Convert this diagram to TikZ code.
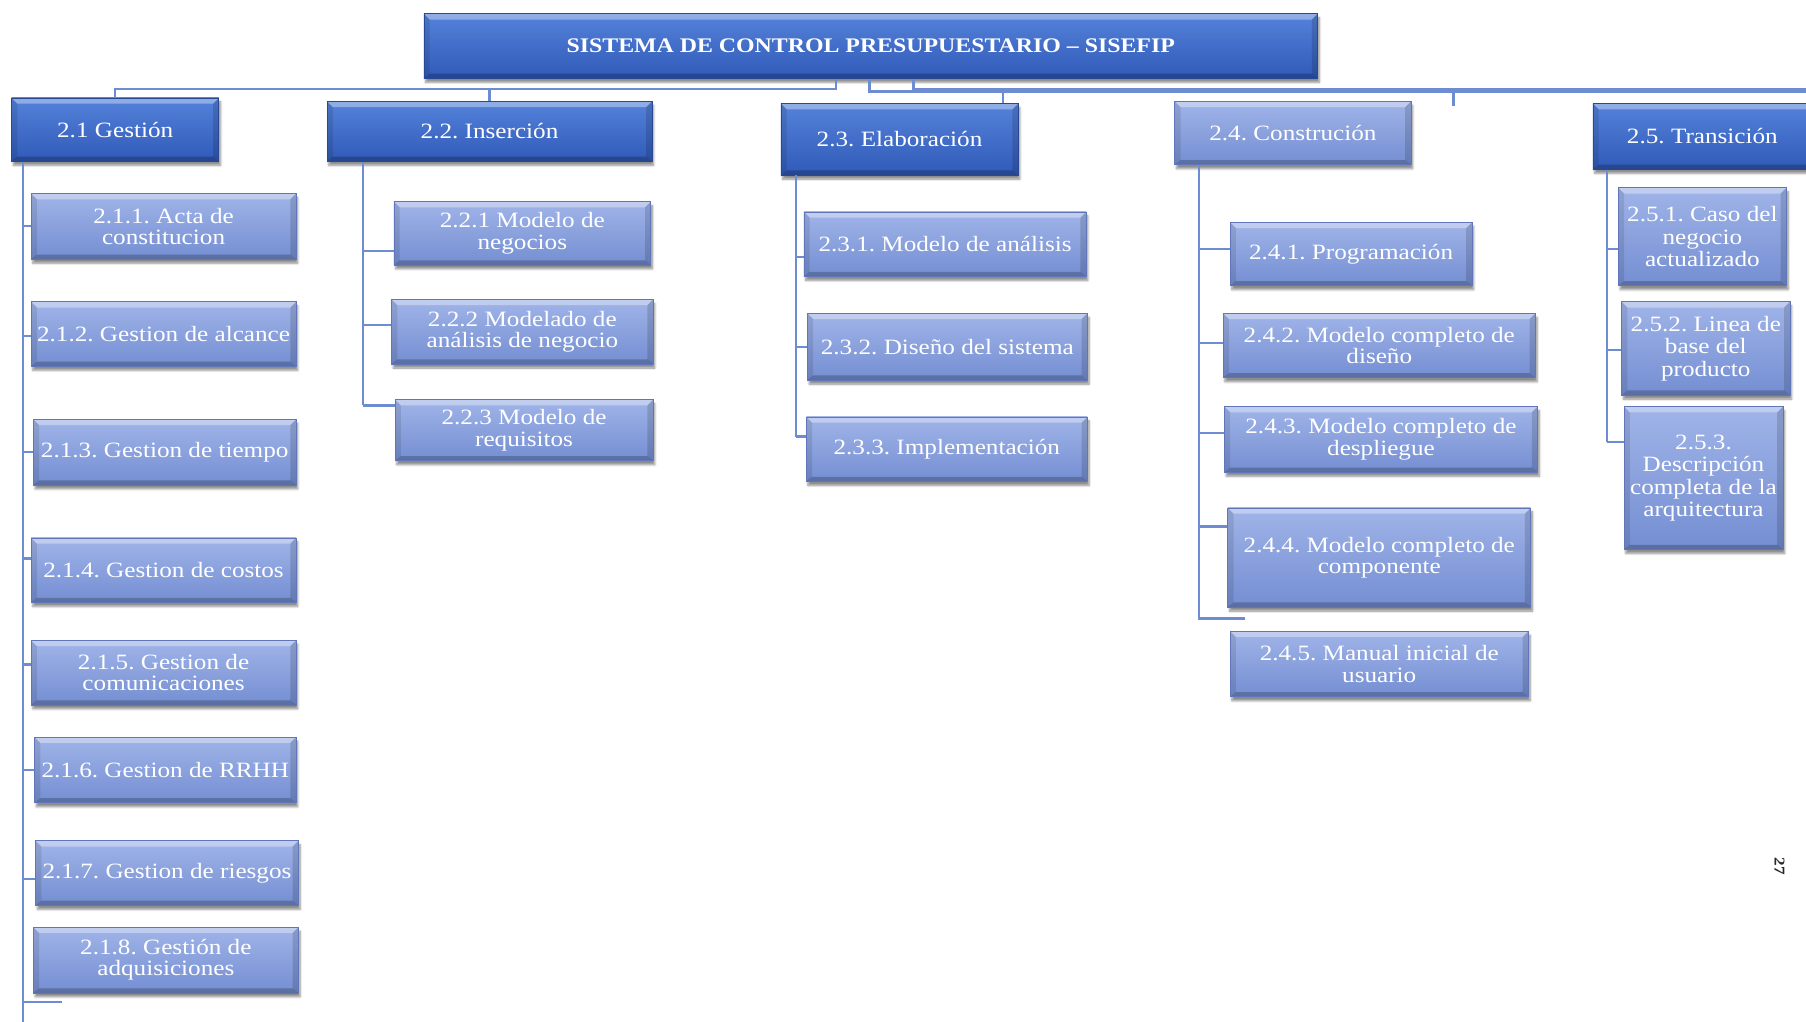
\documentclass[tikz,border=0pt]{standalone}
\usepackage{fontspec}
\setmainfont{Liberation Serif}[FakeStretch=1.15]
\usetikzlibrary{shadows.blur}
\definecolor{lbtop}{RGB}{160,180,232}
\definecolor{lbbot}{RGB}{116,142,210}
\definecolor{lbedge}{RGB}{96,118,186}
\definecolor{dbtop}{RGB}{84,130,218}
\definecolor{dbbot}{RGB}{48,90,184}
\definecolor{dbedge}{RGB}{40,72,150}
\definecolor{conncol}{RGB}{110,140,210}
\frenchspacing
\tikzset{
  bevel/.style={path picture={
    \fill[white,opacity=0.35] (path picture bounding box.north west) -- (path picture bounding box.north east) -- ([shift={(-5pt,-5pt)}]path picture bounding box.north east) -- ([shift={(5pt,-5pt)}]path picture bounding box.north west) -- cycle;
    \fill[black,opacity=0.22] (path picture bounding box.south west) -- (path picture bounding box.south east) -- ([shift={(-5pt,4pt)}]path picture bounding box.south east) -- ([shift={(5pt,4pt)}]path picture bounding box.south west) -- cycle;
    \fill[black,opacity=0.10] (path picture bounding box.north west) -- ([shift={(5pt,-5pt)}]path picture bounding box.north west) -- ([shift={(5pt,4pt)}]path picture bounding box.south west) -- (path picture bounding box.south west) -- cycle;
    \fill[black,opacity=0.14] (path picture bounding box.north east) -- ([shift={(-5pt,-5pt)}]path picture bounding box.north east) -- ([shift={(-5pt,4pt)}]path picture bounding box.south east) -- (path picture bounding box.south east) -- cycle;
  }},
  boxbase/.style={rectangle, inner sep=1pt, align=center, text=white, line width=0.6pt, bevel,
     font=\fontsize{19}{18.5}\selectfont,
     blur shadow={shadow xshift=1.5pt, shadow yshift=-3.5pt, shadow blur steps=6, shadow opacity=45}},
  lbox/.style={boxbase, top color=lbtop, bottom color=lbbot, draw=lbedge},
  dbox/.style={boxbase, top color=dbtop, bottom color=dbbot, draw=dbedge},
  tallbox/.style={lbox, font=\fontsize{19}{19.5}\selectfont},
  rootbox/.style={dbox, font=\bfseries\fontsize{18}{20}\selectfont},
  conn/.style={draw=conncol, line width=2pt},
}
\newcommand{\wbs}[7]{%
  \pgfmathsetmacro{\wbsw}{#5-#3}\pgfmathsetmacro{\wbsh}{#6-#4}%
  \node[#2, minimum width=\wbsw pt, minimum height=\wbsh pt] (#1) at ({(#3+#5)/2},{(#4+#6)/2}) {#7};}
\newcommand{\stub}[3]{%
  \path ([yshift=#3pt]#2.west) coordinate (s#2);
  \draw[conn] (s#2 -| #1) -- (s#2);}
\begin{document}
\begin{tikzpicture}[x=1pt,y=-1pt]
\useasboundingbox (0,0) rectangle (1568,887);
\coordinate (busA) at (726,77);
\coordinate (busB) at (755,79.5);
\coordinate (busC) at (793,77);
\coordinate (edgeB) at (1570,79.5);
\coordinate (edgeC) at (1570,77);
\coordinate (dropE) at (871,79.5);
\coordinate (stubT) at (1262,79.5);
\coordinate (stubE) at (1262,92);
\coordinate (v21) at (20,887);
\coordinate (v22) at (315,352);
\coordinate (v23) at (691,379);
\coordinate (v24) at (1041,537);
\coordinate (v25) at (1395,384);
\coordinate (b21) at (54,870);
\coordinate (b24) at (1081,537);

\wbs{root}{rootbox}{368}{12}{1144}{68}{SISTEMA DE CONTROL PRESUPUESTARIO – SISEFIP}
\wbs{g21}{dbox}{10}{85}{190}{140}{2.1 Gestión}
\wbs{g22}{dbox}{284}{88}{566}{140}{2.2. Inserción}
\wbs{g23}{dbox}{678}{90}{884}{152}{2.3. Elaboración}
\wbs{g24}{lbox}{1020}{88}{1225}{143}{2.4. Construción}
\wbs{g25}{dbox}{1383}{90}{1573}{147}{2.5. Transición}

\wbs{g211}{lbox}{27}{168}{257}{225}{2.1.1. Acta de\\constitucion}
\wbs{g212}{lbox}{27}{262}{257}{318}{2.1.2. Gestion de alcance}
\wbs{g213}{lbox}{29}{364}{257}{421}{2.1.3. Gestion de tiempo}
\wbs{g214}{lbox}{27}{467}{257}{523}{2.1.4. Gestion de costos}
\wbs{g215}{lbox}{27}{556}{257}{612}{2.1.5. Gestion de\\comunicaciones}
\wbs{g216}{lbox}{30}{640}{257}{697}{2.1.6. Gestion de RRHH}
\wbs{g217}{lbox}{31}{730}{259}{786}{2.1.7. Gestion de riesgos}
\wbs{g218}{lbox}{29}{805}{259}{862}{2.1.8. Gestión de\\adquisiciones}

\wbs{g221}{lbox}{342}{175}{565}{230}{2.2.1 Modelo de\\negocios}
\wbs{g222}{lbox}{340}{260}{567}{316}{2.2.2 Modelado de\\análisis de negocio}
\wbs{g223}{lbox}{343}{347}{567}{400}{2.2.3 Modelo de\\requisitos}

\wbs{g231}{lbox}{698}{184}{943}{240}{2.3.1. Modelo de análisis}
\wbs{g232}{lbox}{701}{272}{944}{330}{2.3.2. Diseño del sistema}
\wbs{g233}{lbox}{700}{362}{944}{418}{2.3.3. Implementación}

\wbs{g241}{lbox}{1068}{193}{1278}{248}{2.4.1. Programación}
\wbs{g242}{lbox}{1062}{272}{1333}{328}{2.4.2. Modelo completo de\\diseño}
\wbs{g243}{lbox}{1063}{353}{1335}{410}{2.4.3. Modelo completo de\\despliegue}
\wbs{g244}{lbox}{1066}{441}{1329}{527}{2.4.4. Modelo completo de\\componente}
\wbs{g245}{lbox}{1068}{548}{1327}{605}{2.4.5. Manual inicial de\\usuario}

\wbs{g251}{tallbox}{1405}{163}{1551}{248}{2.5.1. Caso del\\negocio\\actualizado}
\wbs{g252}{tallbox}{1408}{262}{1554}{343}{2.5.2. Linea de\\base del\\producto}
\wbs{g253}{tallbox}{1410}{353}{1548}{477}{2.5.3.\\Descripción\\completa de la\\arquitectura}

\draw[conn] (root.south -| busA) -- (busA) -| (g21.north);
\draw[conn] (busA -| g22.north) -- (g22.north);
\draw[conn] (root.south -| busB) -- (busB) -- (edgeB);
\draw[conn] (root.south -| busC) -- (busC) -- (edgeC);
\draw[conn] (dropE) -- (dropE |- g23.north);
\draw[conn] (stubT) -- (stubE);

\draw[conn] (g21.south -| v21) -- (v21);
\draw[conn] (g22.south -| v22) -- (v22);
\draw[conn] (g23.south -| v23) -- (v23);
\draw[conn] (g24.south -| v24) -- (v24) -- (b24);
\draw[conn] (g25.south -| v25) -- (v25);
\draw[conn] (b21 -| v21) -- (b21);

\stub{v21}{g211}{0}
\stub{v21}{g212}{-2}
\stub{v21}{g213}{0}
\stub{v21}{g214}{10}
\stub{v21}{g215}{7}
\stub{v21}{g216}{0}
\stub{v21}{g217}{-5}
\stub{v22}{g221}{-15.5}
\stub{v22}{g222}{6}
\stub{v22}{g223}{21.5}
\stub{v23}{g231}{-11}
\stub{v23}{g232}{0}
\stub{v23}{g233}{11}
\stub{v24}{g241}{4.5}
\stub{v24}{g242}{2}
\stub{v24}{g243}{5.5}
\stub{v24}{g244}{27}
\stub{v25}{g251}{-10.5}
\stub{v25}{g252}{-1.5}
\stub{v25}{g253}{31}

\node[rotate=-90, font=\bfseries\fontsize{13}{13}\selectfont, text=black!85, inner sep=0pt] (pg) at (1545,752) {27};
\end{tikzpicture}
\end{document}
